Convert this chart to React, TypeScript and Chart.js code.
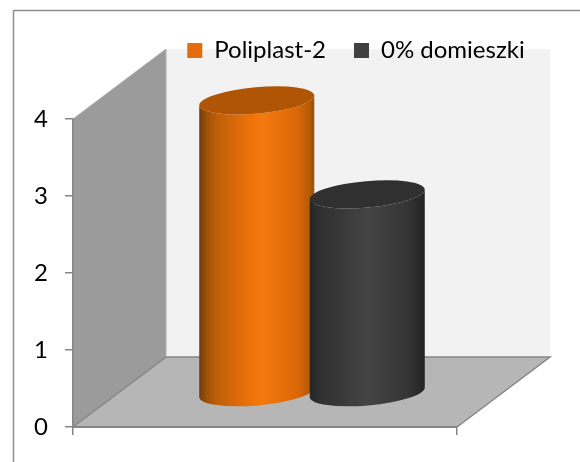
import React, { useEffect, useRef } from "react";
import { Chart, registerables } from "chart.js";

Chart.register(...registerables);

const categories = [""];
const seriesNames = ["Poliplast-2", "0% domieszki"];
const poliplast = [3.8];
const domieszki = [2.58];
const yTicks = [0, 1, 2, 3, 4];
const legendColors = ["#e46c0a", "#404040"];
const capColors = ["#b05505", "#303030"];
const bodyStops = [
  [[0, "#6e3c08"], [0.06, "#9a4f08"], [0.15, "#bd5e08"], [0.45, "#ee7209"], [0.55, "#f4790f"], [0.85, "#dc6706"], [0.95, "#b85a06"], [1, "#965008"]],
  [[0, "#262626"], [0.08, "#2f2f2f"], [0.5, "#444444"], [0.85, "#353535"], [1, "#222222"]],
] as [number, string][][];

const FONT = "Lato";
const AXIS = "#868686";
const BACK_WALL = "#f2f2f2";
const SIDE_WALL = "#9b9b9b";
const FLOOR = "#b6b6b6";
const DEPTH_X = 93;
const DEPTH_Y = -70;
const BAR_DX = 47;
const BAR_DY = -34;
const TILT = (-5 * Math.PI) / 180;
const MINOR = 13.2;

const scenePlugin = {
  id: "scene",
  afterLayout(chart: any) {
    const l = chart.legend;
    if (l) {
      const cx = 356;
      l.left = cx - 290;
      l.right = cx + 290;
      l.top = 10.5;
      l.bottom = l.top + l.height;
    }
  },
  beforeDraw(chart: any) {
    const { ctx } = chart;
    const x = chart.scales.x;
    const y = chart.scales.y;
    const l = x.left;
    const r = x.right;
    const b = y.getPixelForValue(0);
    const t = y.getPixelForValue(4);
    ctx.save();
    ctx.fillStyle = "#ffffff";
    ctx.fillRect(0, 0, chart.width, chart.height);
    ctx.strokeStyle = "#8e8e8e";
    ctx.lineWidth = 1.5;
    ctx.beginPath();
    ctx.moveTo(13.5, chart.height + 2);
    ctx.lineTo(13.5, 10.5);
    ctx.lineTo(chart.width + 2, 10.5);
    ctx.stroke();
    ctx.fillStyle = BACK_WALL;
    ctx.fillRect(l + DEPTH_X, t + DEPTH_Y, r - l, b - t);
    ctx.fillStyle = SIDE_WALL;
    ctx.beginPath();
    ctx.moveTo(l, t);
    ctx.lineTo(l + DEPTH_X, t + DEPTH_Y);
    ctx.lineTo(l + DEPTH_X, b + DEPTH_Y);
    ctx.lineTo(l, b);
    ctx.closePath();
    ctx.fill();
    ctx.fillStyle = FLOOR;
    ctx.beginPath();
    ctx.moveTo(l, b);
    ctx.lineTo(r, b);
    ctx.lineTo(r + DEPTH_X, b + DEPTH_Y);
    ctx.lineTo(l + DEPTH_X, b + DEPTH_Y);
    ctx.closePath();
    ctx.fill();
    ctx.strokeStyle = AXIS;
    ctx.lineWidth = 1.5;
    ctx.beginPath();
    ctx.moveTo(l, b);
    ctx.lineTo(l + DEPTH_X, b + DEPTH_Y);
    ctx.lineTo(r + DEPTH_X, b + DEPTH_Y);
    ctx.lineTo(r, b);
    ctx.stroke();
    ctx.strokeStyle = "#b0b0b0";
    ctx.lineWidth = 1;
    ctx.beginPath();
    ctx.moveTo(l, t);
    ctx.lineTo(l + DEPTH_X, t + DEPTH_Y);
    ctx.lineTo(l + DEPTH_X, b + DEPTH_Y);
    ctx.stroke();
    ctx.restore();
  },
  beforeDatasetsDraw(chart: any) {
    const { ctx } = chart;
    chart.data.datasets.forEach((_: any, i: number) => {
      chart.getDatasetMeta(i).data.forEach((bar: any) => {
        const p = bar.getProps(["x", "y", "base", "width"], true);
        const cx = p.x + BAR_DX;
        const topY = p.y + BAR_DY;
        const baseY = p.base + BAR_DY;
        const a = p.width / 2;
        const g = ctx.createLinearGradient(cx - a, 0, cx + a, 0);
        bodyStops[i].forEach(([o, c]) => g.addColorStop(o, c));
        ctx.save();
        ctx.fillStyle = g;
        ctx.beginPath();
        ctx.ellipse(cx, topY, a, MINOR, TILT, Math.PI, 0, true);
        ctx.ellipse(cx, baseY, a, MINOR, TILT, 0, Math.PI, false);
        ctx.closePath();
        ctx.fill();
        ctx.fillStyle = capColors[i];
        ctx.beginPath();
        ctx.ellipse(cx, topY, a, MINOR, TILT, 0, Math.PI * 2);
        ctx.fill();
        ctx.restore();
      });
    });
    return false;
  },
};

export default function App() {
  const ref = useRef<HTMLCanvasElement | null>(null);
  useEffect(() => {
    if (!ref.current) return;
    const chart = new Chart(ref.current, {
      type: "bar",
      data: {
        labels: categories,
        datasets: [
          { label: seriesNames[0], data: poliplast, backgroundColor: legendColors[0], barPercentage: 1.045, categoryPercentage: 0.5755 },
          { label: seriesNames[1], data: domieszki, backgroundColor: legendColors[1], barPercentage: 1.045, categoryPercentage: 0.5755 },
        ],
      },
      options: {
        responsive: false,
        animation: false,
        layout: { padding: { left: 0, right: 123, top: 57, bottom: 0 } },
        plugins: {
          title: { display: false },
          tooltip: { enabled: false },
          legend: {
            display: true,
            position: "top",
            align: "center",
            labels: {
              boxWidth: 15,
              boxHeight: 15,
              padding: 28,
              color: "#000000",
              font: { family: FONT, size: 24 },
            },
          },
        },
        scales: {
          x: {
            grid: { display: true, drawOnChartArea: false, drawTicks: true, tickLength: 8, color: AXIS, lineWidth: 1.5 },
            border: { color: AXIS, width: 2 },
            ticks: { display: false },
            afterFit(s: any) {
              s.height = 35;
            },
          },
          y: {
            min: 0,
            max: 4,
            afterBuildTicks(s: any) {
              s.ticks = yTicks.map((v) => ({ value: v }));
            },
            grid: { display: true, drawOnChartArea: false, drawTicks: true, tickLength: 8, color: AXIS, lineWidth: 1.5 },
            border: { color: AXIS, width: 1.5 },
            ticks: { padding: 17, color: "#000000", font: { family: FONT, size: 24 } },
            afterFit(s: any) {
              s.width = 73;
            },
          },
        },
      },
      plugins: [scenePlugin],
    } as any);
    return () => chart.destroy();
  }, []);
  return (
    <div style={{ position: "absolute", left: 0, top: 0, width: 580, height: 462, background: "#fff" }}>
      <canvas ref={ref} width={580} height={462} style={{ display: "block" }} />
    </div>
  );
}
